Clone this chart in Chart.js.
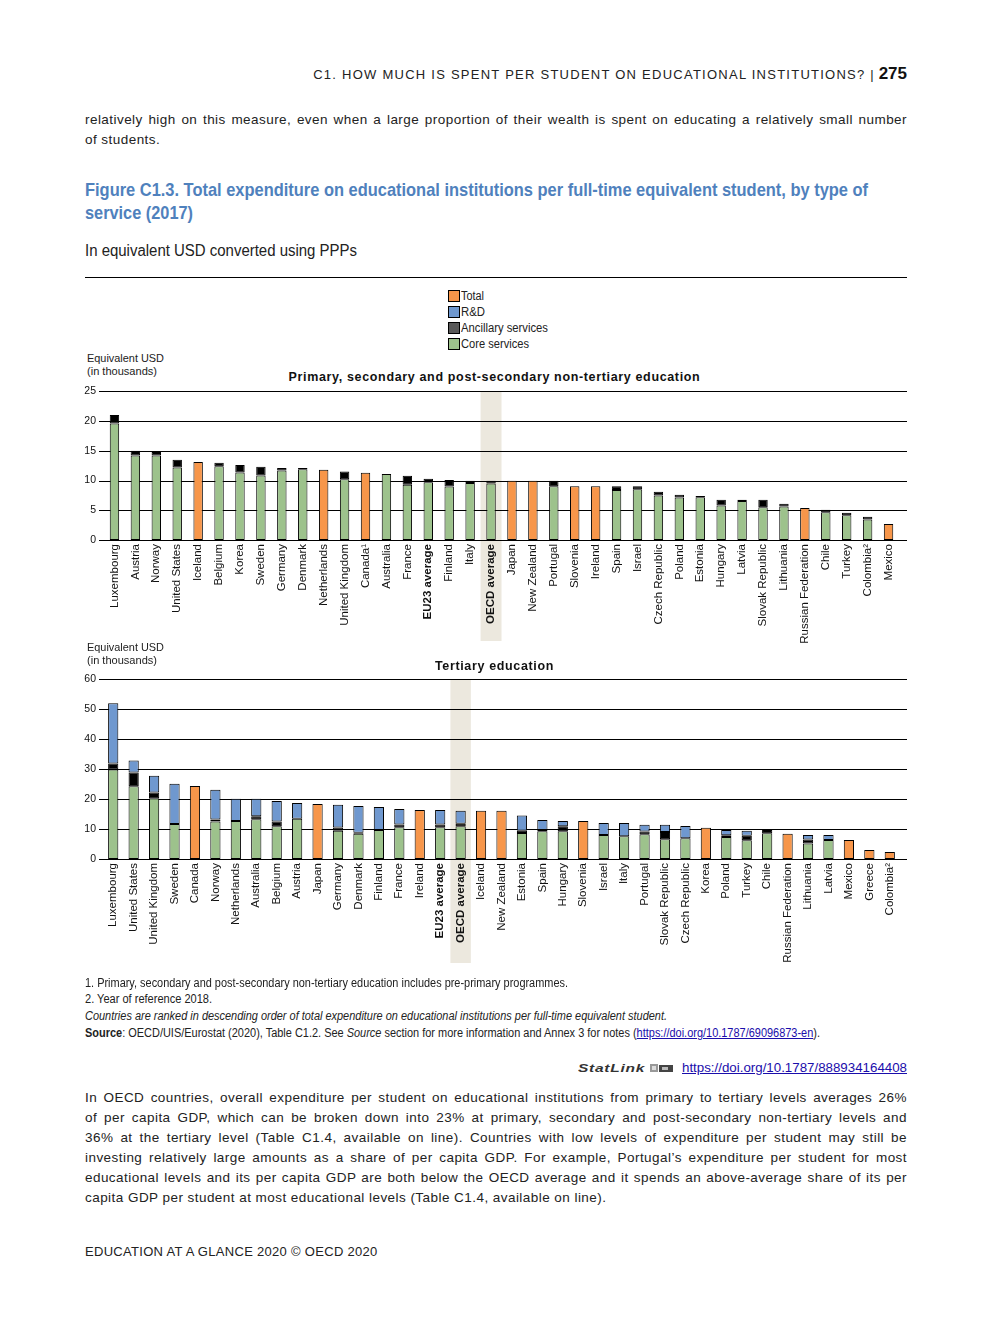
<!DOCTYPE html>
<html>
<head>
<meta charset="utf-8">
<script src="https://cdn.jsdelivr.net/npm/chart.js@4.4.1/dist/chart.umd.min.js"></script>
<style>
  html, body { margin:0; padding:0; background:#fff; }
  body { width:992px; height:1323px; position:relative; overflow:hidden; font-family:"Liberation Sans", Arial, sans-serif; color:#222; }
  .abs { position:absolute; white-space:nowrap; }
  .fit { position:absolute; white-space:nowrap; transform-origin:0 50%; }
  .para { position:absolute; left:85px; width:822px; font-size:13.5px; line-height:20px; letter-spacing:0.45px; color:#222; white-space:nowrap; }
  .just { text-align:justify; text-align-last:justify; }
  .box { position:absolute; left:448px; width:10px; height:10px; border:1px solid #000; }
  .chartbox { position:absolute; left:80px; width:830px; }
  a { color:#1a0dab; }
</style>
</head>
<body>
<div class="abs" style="right:85px; top:64px; line-height:20px; font-size:13px; letter-spacing:1.25px; color:#222;">C1. HOW MUCH IS SPENT PER STUDENT ON EDUCATIONAL INSTITUTIONS? <span style="letter-spacing:0">|</span> <span style="font-weight:bold; font-size:17px; letter-spacing:0; color:#111;">275</span></div>

<div class="para just" style="top:110px;">relatively high on this measure, even when a large proportion of their wealth is spent on educating a relatively small number</div>
<div class="para" style="top:130px;">of students.</div>

<div class="fit" data-w="783" style="left:85px; top:178px; font-size:18.5px; line-height:23px; font-weight:bold; color:#4f81bd;">Figure C1.3. Total expenditure on educational institutions per full-time equivalent student, by type of</div>
<div class="fit" data-w="108" style="left:85px; top:201px; font-size:18.5px; line-height:23px; font-weight:bold; color:#4f81bd;">service (2017)</div>

<div class="fit" data-w="272" style="left:85px; top:241px; font-size:16px; line-height:20px; color:#222;">In equivalent USD converted using PPPs</div>
<div class="abs" style="left:85px; top:277px; width:822px; height:0; border-top:1px solid #000;"></div>

<div class="box" style="top:290px; background:#f7964a"></div>
<div class="fit" data-w="23" style="left:461px; top:288px; font-size:12.5px; line-height:16px;">Total</div>
<div class="box" style="top:306px; background:#6f98cf"></div>
<div class="fit" data-w="24" style="left:461px; top:304px; font-size:12.5px; line-height:16px;">R&amp;D</div>
<div class="box" style="top:322px; background:#595959"></div>
<div class="fit" data-w="87" style="left:461px; top:320px; font-size:12.5px; line-height:16px;">Ancillary services</div>
<div class="box" style="top:338px; background:#9dc28c"></div>
<div class="fit" data-w="68" style="left:461px; top:336px; font-size:12.5px; line-height:16px;">Core services</div>

<div class="fit" data-w="77" style="left:87px; top:352px; font-size:11.5px; line-height:13px;">Equivalent USD</div>
<div class="fit" data-w="70" style="left:87px; top:365px; font-size:11.5px; line-height:13px;">(in thousands)</div>
<div class="abs" style="left:0; width:989px; text-align:center; top:369px; font-size:12.5px; line-height:16px; font-weight:bold; letter-spacing:0.65px; color:#111;">Primary, secondary and post-secondary non-tertiary education</div>

<div class="chartbox" style="top:377px; height:276px;"><canvas id="c1"></canvas></div>

<div class="fit" data-w="77" style="left:87px; top:641px; font-size:11.5px; line-height:13px;">Equivalent USD</div>
<div class="fit" data-w="70" style="left:87px; top:654px; font-size:11.5px; line-height:13px;">(in thousands)</div>
<div class="abs" style="left:0; width:989px; text-align:center; top:658px; font-size:12.5px; line-height:16px; font-weight:bold; letter-spacing:0.65px; color:#111;">Tertiary education</div>

<div class="chartbox" style="top:666px; height:309px;"><canvas id="c2"></canvas></div>

<div class="fit" data-w="483" style="left:85px; top:975px; font-size:12px; line-height:16px;">1. Primary, secondary and post-secondary non-tertiary education includes pre-primary programmes.</div>
<div class="fit" data-w="127" style="left:85px; top:991px; font-size:12px; line-height:16px;">2. Year of reference 2018.</div>
<div class="fit" data-w="582" style="left:85px; top:1008px; font-size:12px; line-height:16px; font-style:italic;">Countries are ranked in descending order of total expenditure on educational institutions per full-time equivalent student.</div>
<div class="fit" data-w="735" style="left:85px; top:1025px; font-size:12px; line-height:16px;"><b>Source</b>: OECD/UIS/Eurostat (2020), Table C1.2. See <i>Source</i> section for more information and Annex 3 for notes (<a href="#">https://doi.org/10.1787/69096873-en</a>).</div>

<div class="fit" data-w="67" style="left:578px; top:1060px; font-size:11px; line-height:16px; font-weight:bold; font-style:italic; letter-spacing:0.5px; color:#333;">StatLink</div>
<svg class="abs" style="left:650px; top:1063px;" width="24" height="10"><rect x="0" y="1" width="8" height="8" fill="#999"/><rect x="9" y="2" width="14" height="7" fill="#444"/><rect x="2" y="3" width="4" height="4" fill="#ddd"/><rect x="12" y="4" width="6" height="3" fill="#bbb"/></svg>
<div class="fit" data-w="225" style="left:682px; top:1059px; font-size:13px; line-height:18px;"><a href="#">https://doi.org/10.1787/888934164408</a></div>

<div class="para just" style="top:1088px;">In OECD countries, overall expenditure per student on educational institutions from primary to tertiary levels averages 26%</div>
<div class="para just" style="top:1108px;">of per capita GDP, which can be broken down into 23% at primary, secondary and post-secondary non-tertiary levels and</div>
<div class="para just" style="top:1128px;">36% at the tertiary level (Table C1.4, available on line). Countries with low levels of expenditure per student may still be</div>
<div class="para just" style="top:1148px;">investing relatively large amounts as a share of per capita GDP. For example, Portugal’s expenditure per student for most</div>
<div class="para just" style="top:1168px;">educational levels and its per capita GDP are both below the OECD average and it spends an above-average share of its per</div>
<div class="para" style="top:1188px;">capita GDP per student at most educational levels (Table C1.4, available on line).</div>

<div class="abs" style="left:85px; top:1243px; font-size:13px; line-height:18px; letter-spacing:0.3px; color:#222;">EDUCATION AT A GLANCE 2020 © OECD 2020</div>

<script>
// ---------- DATA: Primary, secondary and post-secondary non-tertiary ----------
const labelsPrimary = ["Luxembourg","Austria","Norway","United States","Iceland","Belgium","Korea","Sweden","Germany","Denmark","Netherlands","United Kingdom","Canada¹","Australia","France","EU23 average","Finland","Italy","OECD average","Japan","New Zealand","Portugal","Slovenia","Ireland","Spain","Israel","Czech Republic","Poland","Estonia","Hungary","Latvia","Slovak Republic","Lithuania","Russian Federation","Chile","Turkey","Colombia²","Mexico"];
const corePrimary = [19.6,14.2,14.2,12.2,null,12.4,11.35,10.85,11.7,11.9,null,10.2,null,11.1,9.3,9.7,9.0,9.6,9.5,null,null,9.05,null,null,8.4,8.55,7.5,7.15,7.2,5.8,6.55,5.5,5.65,null,4.65,4.15,3.45,null];
const ancillaryPrimary = [1.4,0.8,0.6,1.3,null,0.6,1.25,1.45,0.4,0.2,null,1.3,null,null,1.5,0.6,1.1,0.35,0.45,null,null,0.9,null,null,0.65,0.5,0.6,0.45,0.2,0.95,0.2,1.25,0.45,null,0.45,0.45,0.45,null];
const totalPrimary = [null,null,null,null,13.1,null,null,null,null,null,11.8,null,11.3,null,null,null,null,null,null,9.95,9.95,null,9.05,9.05,null,null,null,null,null,null,null,null,null,5.4,null,null,null,2.7];
const ticksPrimary = [0,5,10,15,20,25];

// ---------- DATA: Tertiary ----------
const labelsTertiary = ["Luxembourg","United States","United Kingdom","Sweden","Canada","Norway","Netherlands","Australia","Belgium","Austria","Japan","Germany","Denmark","Finland","France","Ireland","EU23 average","OECD average","Iceland","New Zealand","Estonia","Spain","Hungary","Slovenia","Israel","Italy","Portugal","Slovak Republic","Czech Republic","Korea","Poland","Turkey","Chile","Russian Federation","Lithuania","Latvia","Mexico","Greece","Colombia²"];
const coreTertiary = [29.9,24.3,20.3,11.7,null,12.5,12.7,13.3,10.9,13.4,null,9.4,8.4,9.7,10.6,null,10.6,10.9,null,null,8.7,9.25,9.25,null,8.0,7.6,8.25,6.6,6.9,null,7.35,6.25,8.6,null,5.2,6.35,null,null,null];
const ancillaryTertiary = [2.0,4.6,1.9,null,null,0.7,null,1.0,1.6,null,null,1.1,0.4,null,0.9,null,0.9,0.9,null,null,0.7,0.45,1.65,null,null,null,0.9,2.4,null,null,0.55,1.55,1.1,null,1.3,null,null,null,null];
const rdTertiary = [20.1,4.0,5.6,13.4,null,9.9,7.4,5.8,6.9,5.3,null,7.6,8.9,7.7,5.2,null,4.9,4.3,null,null,5.1,3.3,1.8,null,4.0,4.4,2.3,2.4,4.1,null,1.8,1.6,null,null,1.5,1.65,null,null,null];
const totalTertiary = [null,null,null,null,24.4,null,null,null,null,null,18.4,null,null,null,null,16.4,null,null,16.1,16.1,null,null,null,12.7,null,null,null,null,null,10.4,null,null,null,8.4,null,null,6.35,3.0,2.35];
const ticksTertiary = [0,10,20,30,40,50,60];

const GREEN = '#9dc28c', BLUE = '#6f98cf', ORANGE = '#f7964a', BLACK = '#000000';
const FONT = '"Liberation Sans", Arial, sans-serif';

// condense text blocks to the reference widths (narrow typeface not installed)
document.querySelectorAll('.fit').forEach(el => {
  const w = el.getBoundingClientRect().width;
  el.style.transform = 'scaleX(' + (Number(el.dataset.w) / w).toFixed(4) + ')';
});

const pagePlugin = {
  id: 'pageDecor',
  beforeDraw(chart, args, o) {
    const {ctx, chartArea, scales} = chart;
    const x = scales.x;
    const idx = chart.data.labels.indexOf('OECD average');
    const cw = (x.right - x.left) / chart.data.labels.length;
    const cx = x.getPixelForValue(idx);
    ctx.save();
    ctx.fillStyle = '#ece8de';
    ctx.fillRect(cx - cw / 2, chartArea.top, cw, chartArea.bottom - chartArea.top + o.bandExt);
    ctx.restore();
  },
  beforeDatasetsDraw(chart, args, o) {
    const {ctx, chartArea, scales} = chart;
    const y = scales.y;
    ctx.save();
    ctx.strokeStyle = '#000';
    ctx.lineWidth = 1;
    y.ticks.forEach(t => {
      const py = Math.round(y.getPixelForValue(t.value)) + 0.5;
      ctx.beginPath();
      ctx.moveTo(chartArea.left - o.leftExt, py);
      ctx.lineTo(chartArea.right + o.rightExt, py);
      ctx.stroke();
    });
    ctx.restore();
  }
};

function ds(label, data, color, bp) {
  return { label, data, backgroundColor: color, borderColor: '#000', borderWidth: 1, borderSkipped: false,
           barPercentage: bp, categoryPercentage: 1, stack: 's' };
}

function makeChart(id, labels, series, ticks, opt) {
  const datasets = series.map(s => ds(s[0], s[1], s[2], opt.bp));
  return new Chart(document.getElementById(id), {
    type: 'bar',
    data: { labels, datasets },
    plugins: [pagePlugin],
    options: {
      responsive: true, maintainAspectRatio: false, animation: false,
      layout: { padding: { top: 0, right: opt.right, left: 0, bottom: opt.pb } },
      plugins: { legend: { display: false }, tooltip: { enabled: false },
                 pageDecor: { leftExt: opt.leftExt, rightExt: opt.rightExt, bandExt: opt.bandExt } },
      scales: {
        x: {
          stacked: true,
          grid: { display: false, drawTicks: false },
          border: { display: false },
          ticks: {
            autoSkip: false, minRotation: 90, maxRotation: 90, padding: 4, color: '#111',
            font: (c) => ({ family: FONT, size: 11.5, weight: /average/.test(labels[c.index]) ? 'bold' : 'normal' })
          },
          afterFit: (s) => { s.height = opt.xh; }
        },
        y: {
          stacked: true, min: 0, max: ticks[ticks.length - 1],
          afterBuildTicks: (s) => { s.ticks = ticks.map(v => ({ value: v })); },
          grid: { display: false, drawTicks: false },
          border: { display: false },
          ticks: { padding: opt.ypad, color: '#111', font: { family: FONT, size: 10.5 } },
          afterFit: (s) => { s.width = opt.yw; }
        }
      }
    }
  });
}

makeChart('c1', labelsPrimary, [
  ['Core services', corePrimary, GREEN],
  ['Ancillary services', ancillaryPrimary, BLACK],
  ['Total', totalPrimary, ORANGE]
], ticksPrimary, { bp: 0.45, right: 11, xh: 107, pb: 6, yw: 24, ypad: 8, leftExt: 5, rightExt: 8, bandExt: 101 });

makeChart('c2', labelsTertiary, [
  ['Core services', coreTertiary, GREEN],
  ['Ancillary services', ancillaryTertiary, BLACK],
  ['R&D', rdTertiary, BLUE],
  ['Total', totalTertiary, ORANGE]
], ticksTertiary, { bp: 0.5, right: 10, xh: 110, pb: 6, yw: 23, ypad: 7, leftExt: 4, rightExt: 7, bandExt: 104 });
</script>
</body>
</html>
